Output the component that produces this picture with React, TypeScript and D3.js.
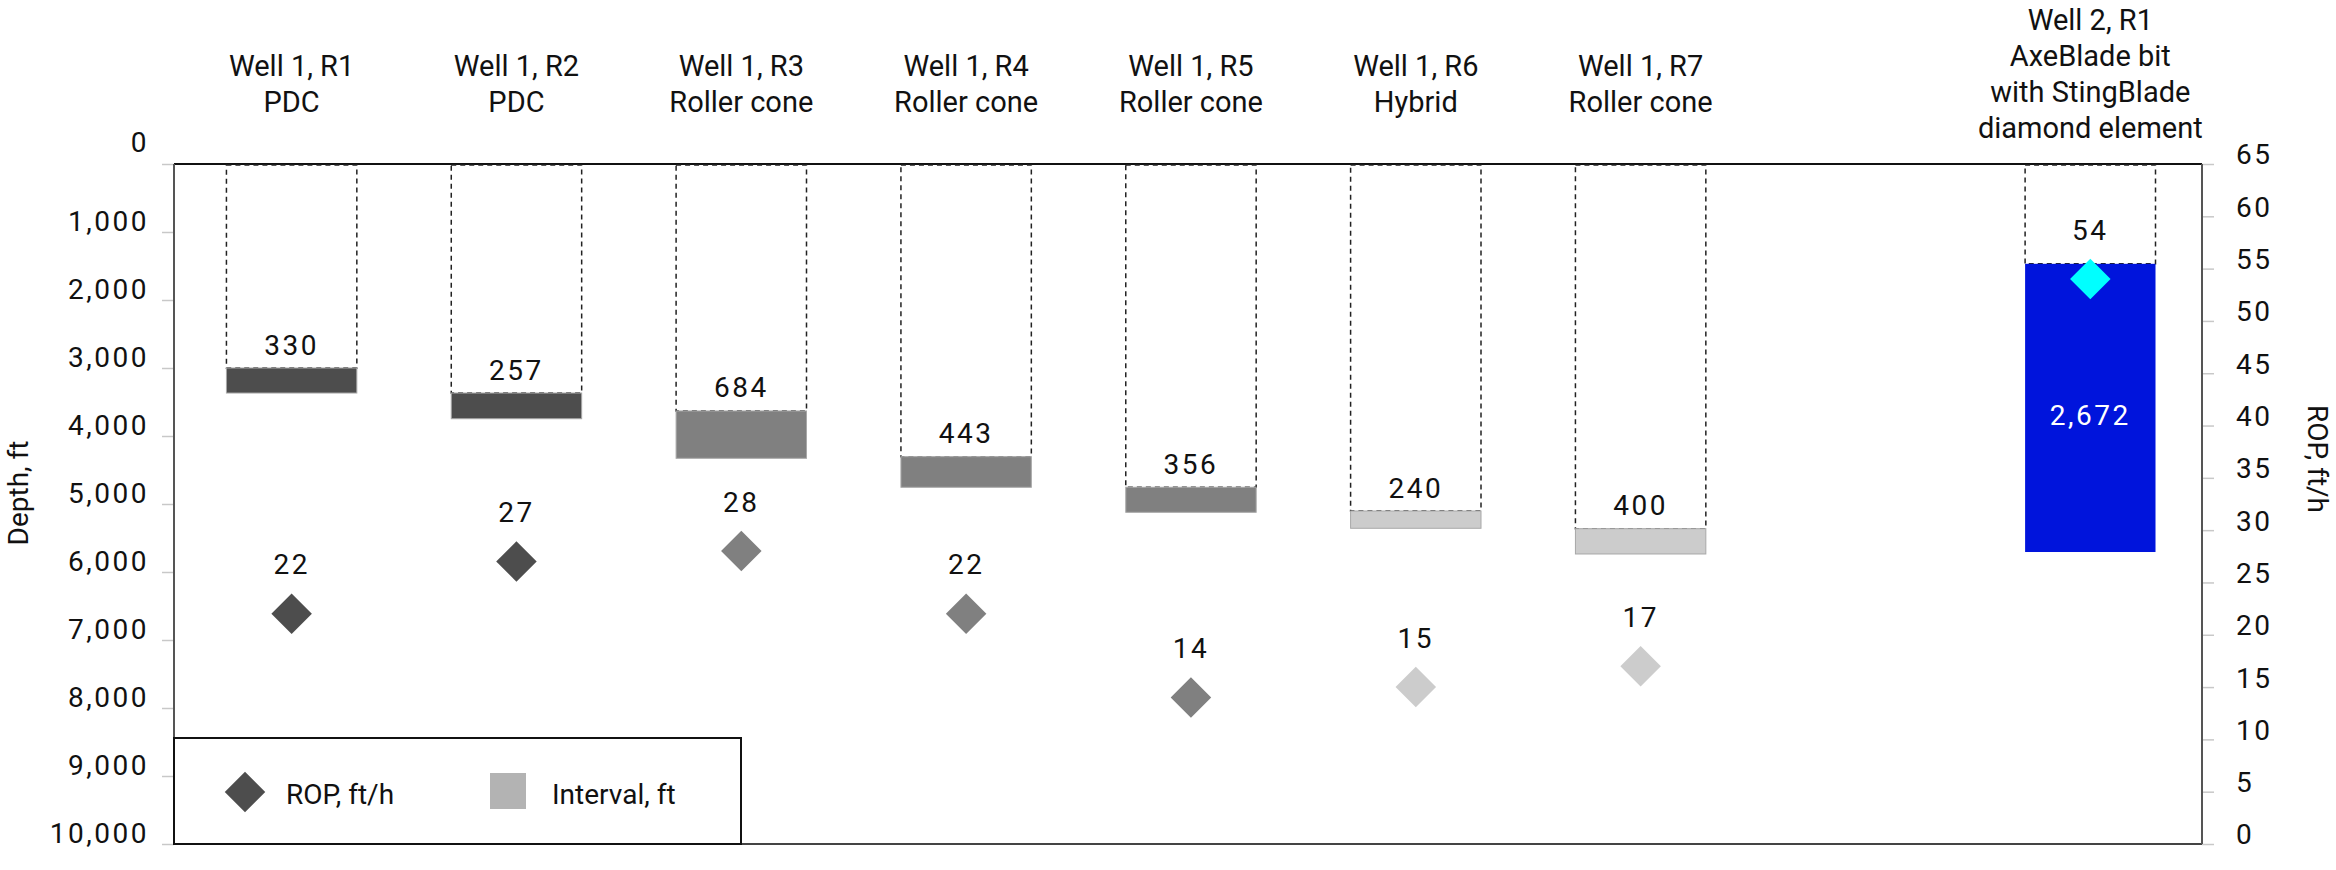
import * as d3 from "d3"
import { useEffect, useRef } from "react"

// Bit runs (Well 1 runs R1-R7, then Well 2 run R1)
const runs = ["W1R1", "W1R2", "W1R3", "W1R4", "W1R5", "W1R6", "W1R7", "W2R1"]
// an empty slot separates the two wells
const slots = [...runs.slice(0, 7), "gap", "W2R1"]

const headerLines = [
  ["Well 1, R1", "PDC"],
  ["Well 1, R2", "PDC"],
  ["Well 1, R3", "Roller cone"],
  ["Well 1, R4", "Roller cone"],
  ["Well 1, R5", "Roller cone"],
  ["Well 1, R6", "Hybrid"],
  ["Well 1, R7", "Roller cone"],
  ["Well 2, R1", "AxeBlade bit", "with StingBlade", "diamond element"],
]

// depth in ft where each drilled interval starts / ends
const intervalTop = [3000, 3368, 3632, 4304, 4754, 5103, 5363, 1468]
const intervalBottom = [3368, 3746, 4328, 4754, 5122, 5357, 5735, 5706]
// labelled interval length, ft
const intervalFt = [330, 257, 684, 443, 356, 240, 400, 2672]
// rate of penetration, ft/h
const ropFtH = [22, 27, 28, 22, 14, 15, 17, 54]

const depthTicks = [0, 1000, 2000, 3000, 4000, 5000, 6000, 7000, 8000, 9000, 10000]
const ropTicks = [0, 5, 10, 15, 20, 25, 30, 35, 40, 45, 50, 55, 60, 65]

// styles
const barFill = ["#4d4d4d", "#4d4d4d", "#808080", "#808080", "#808080", "#cccccc", "#cccccc", "#0014dc"]
const diamondFill = ["#4d4d4d", "#4d4d4d", "#808080", "#808080", "#808080", "#cccccc", "#cccccc", "#00ffff"]

const FONT = "Roboto, 'Noto Sans', sans-serif"

const App = () => {
  const svgRef = useRef<SVGSVGElement | null>(null)

  useEffect(() => {
    if (!svgRef.current) return
    const svg = d3.select(svgRef.current)
    svg.selectAll("*").remove()

    const plot = { left: 174, right: 2202, top: 164, bottom: 844 }

    const x = d3
      .scaleBand()
      .domain(slots)
      .range([plot.left, plot.right])
      .paddingInner(0.42)
      .paddingOuter(0.22)
      .align(0.53)

    const yDepth = d3.scaleLinear().domain([0, 10000]).range([plot.top, plot.bottom])
    const yRop = d3.scaleLinear().domain([0, 65]).range([plot.bottom, plot.top])

    const data = runs.map((id, i) => ({
      id,
      lines: headerLines[i],
      top: intervalTop[i],
      bottom: intervalBottom[i],
      ft: intervalFt[i],
      rop: ropFtH[i],
      fill: barFill[i],
      diamond: diamondFill[i],
    }))

    // Left axis (depth)
    const left = svg
      .append("g")
      .attr("transform", `translate(${plot.left},0)`)
      .call(
        d3
          .axisLeft(yDepth)
          .tickValues(depthTicks)
          .tickSize(12)
          .tickPadding(13)
          .tickFormat(d3.format(",") as any),
      )
    left.select(".domain").remove()
    left.selectAll(".tick line").attr("stroke", "#c8c8c8").attr("stroke-width", 1.5)
    left
      .selectAll(".tick text")
      .attr("y", (d: any) => (d === 0 ? -21 : -10))
      .attr("font-size", 28)
      .attr("font-family", FONT)
      .attr("letter-spacing", 2.5)
      .attr("fill", "#111")

    // Right axis (ROP)
    const right = svg
      .append("g")
      .attr("transform", `translate(${plot.right},0)`)
      .call(d3.axisRight(yRop).tickValues(ropTicks).tickSize(12).tickPadding(22))
    right.select(".domain").remove()
    right.selectAll(".tick line").attr("stroke", "#c8c8c8").attr("stroke-width", 1.5)
    right
      .selectAll(".tick text")
      .attr("y", -9)
      .attr("font-size", 28)
      .attr("font-family", FONT)
      .attr("letter-spacing", 2.5)
      .attr("fill", "#111")

    // Frame
    const frame = svg.append("g")
    frame
      .append("line")
      .attr("x1", plot.left).attr("x2", plot.right)
      .attr("y1", plot.top).attr("y2", plot.top)
      .attr("stroke", "#111").attr("stroke-width", 2)
    frame
      .append("line")
      .attr("x1", plot.left).attr("x2", plot.right)
      .attr("y1", plot.bottom).attr("y2", plot.bottom)
      .attr("stroke", "#444").attr("stroke-width", 2)
    frame
      .append("line")
      .attr("x1", plot.left).attr("x2", plot.left)
      .attr("y1", plot.top).attr("y2", plot.bottom)
      .attr("stroke", "#555").attr("stroke-width", 2)
    frame
      .append("line")
      .attr("x1", plot.right).attr("x2", plot.right)
      .attr("y1", plot.top).attr("y2", plot.bottom)
      .attr("stroke", "#555").attr("stroke-width", 2)

    // Dashed outline from surface down to the start of each interval
    svg
      .append("g")
      .selectAll("rect")
      .data(data)
      .enter()
      .append("rect")
      .attr("x", (d) => x(d.id)!)
      .attr("y", yDepth(0) + 1)
      .attr("width", x.bandwidth())
      .attr("height", (d) => yDepth(d.top) - yDepth(0) - 1)
      .attr("fill", "none")
      .attr("stroke", "#222")
      .attr("stroke-width", 1.5)
      .attr("stroke-dasharray", "5,4")

    // Interval bars
    svg
      .append("g")
      .selectAll("rect")
      .data(data)
      .enter()
      .append("rect")
      .attr("x", (d) => x(d.id)!)
      .attr("y", (d) => yDepth(d.top))
      .attr("width", x.bandwidth())
      .attr("height", (d) => yDepth(d.bottom) - yDepth(d.top))
      .attr("fill", (d) => d.fill)
      .attr("stroke", (d) => (d.id === "W2R1" ? "none" : "#a8a8a8"))
      .attr("stroke-width", 1)

    // Interval labels: inside the bar when tall enough, otherwise above
    svg
      .append("g")
      .selectAll("text")
      .data(data)
      .enter()
      .append("text")
      .attr("x", (d) => x(d.id)! + x.bandwidth() / 2)
      .attr("y", (d) => {
        const h = yDepth(d.bottom) - yDepth(d.top)
        return h > 80 ? (yDepth(d.top) + yDepth(d.bottom)) / 2 + 8 : yDepth(d.top) - 23
      })
      .attr("text-anchor", "middle")
      .attr("dominant-baseline", "central")
      .attr("font-size", 28)
      .attr("font-family", FONT)
      .attr("letter-spacing", 2.5)
      .attr("fill", (d) => (yDepth(d.bottom) - yDepth(d.top) > 80 ? "#fff" : "#111"))
      .text((d) => d3.format(",")(d.ft))

    // ROP diamonds
    const diamond = d3.symbol().type(d3.symbolSquare).size(820)
    svg
      .append("g")
      .selectAll("path")
      .data(data)
      .enter()
      .append("path")
      .attr("d", diamond() as string)
      .attr("transform", (d) => `translate(${x(d.id)! + x.bandwidth() / 2},${yRop(d.rop)}) rotate(45)`)
      .attr("fill", (d) => d.diamond)

    svg
      .append("g")
      .selectAll("text")
      .data(data)
      .enter()
      .append("text")
      .attr("x", (d) => x(d.id)! + x.bandwidth() / 2)
      .attr("y", (d) => yRop(d.rop) - 49)
      .attr("text-anchor", "middle")
      .attr("dominant-baseline", "central")
      .attr("font-size", 28)
      .attr("font-family", FONT)
      .attr("letter-spacing", 2.5)
      .attr("fill", "#111")
      .text((d) => d.rop)

    // Column headers
    const headers = svg.append("g")
    data.forEach((d) => {
      const n = d.lines.length
      const mid = n > 2 ? 84 : 94
      d.lines.forEach((line, j) => {
        headers
          .append("text")
          .attr("x", x(d.id)! + x.bandwidth() / 2)
          .attr("y", mid + (j - (n - 1) / 2) * 36)
          .attr("text-anchor", "middle")
          .attr("font-size", 29)
          .attr("font-family", FONT)
          .attr("fill", "#111")
          .text(line)
      })
    })

    // Axis titles
    svg
      .append("text")
      .attr("transform", `translate(18,493) rotate(-90)`)
      .attr("text-anchor", "middle")
      .attr("dominant-baseline", "central")
      .attr("font-size", 28)
      .attr("font-family", FONT)
      .attr("fill", "#111")
      .text("Depth, ft")
    svg
      .append("text")
      .attr("transform", `translate(2317,459) rotate(90)`)
      .attr("text-anchor", "middle")
      .attr("dominant-baseline", "central")
      .attr("font-size", 28)
      .attr("font-family", FONT)
      .attr("fill", "#111")
      .text("ROP, ft/h")

    // Legend
    const legend = svg.append("g").attr("transform", `translate(${plot.left},738)`)
    legend
      .append("rect")
      .attr("width", 567)
      .attr("height", plot.bottom - 738)
      .attr("fill", "#fff")
      .attr("stroke", "#111")
      .attr("stroke-width", 2)
    legend
      .append("path")
      .attr("d", diamond() as string)
      .attr("transform", "translate(71,54) rotate(45)")
      .attr("fill", "#4d4d4d")
    legend
      .append("text")
      .attr("x", 112)
      .attr("y", 56)
      .attr("dominant-baseline", "central")
      .attr("font-size", 28)
      .attr("font-family", FONT)
      .attr("fill", "#111")
      .text("ROP, ft/h")
    legend
      .append("rect")
      .attr("x", 316)
      .attr("y", 35)
      .attr("width", 36)
      .attr("height", 36)
      .attr("fill", "#b3b3b3")
    legend
      .append("text")
      .attr("x", 378)
      .attr("y", 56)
      .attr("dominant-baseline", "central")
      .attr("font-size", 28)
      .attr("font-family", FONT)
      .attr("fill", "#111")
      .text("Interval, ft")
  }, [])

  return (
    <div style={{ position: "absolute", left: 0, top: 0, background: "#fff" }}>
      <svg ref={svgRef} width={2336} height={870} style={{ display: "block" }} />
    </div>
  )
}

export default App
